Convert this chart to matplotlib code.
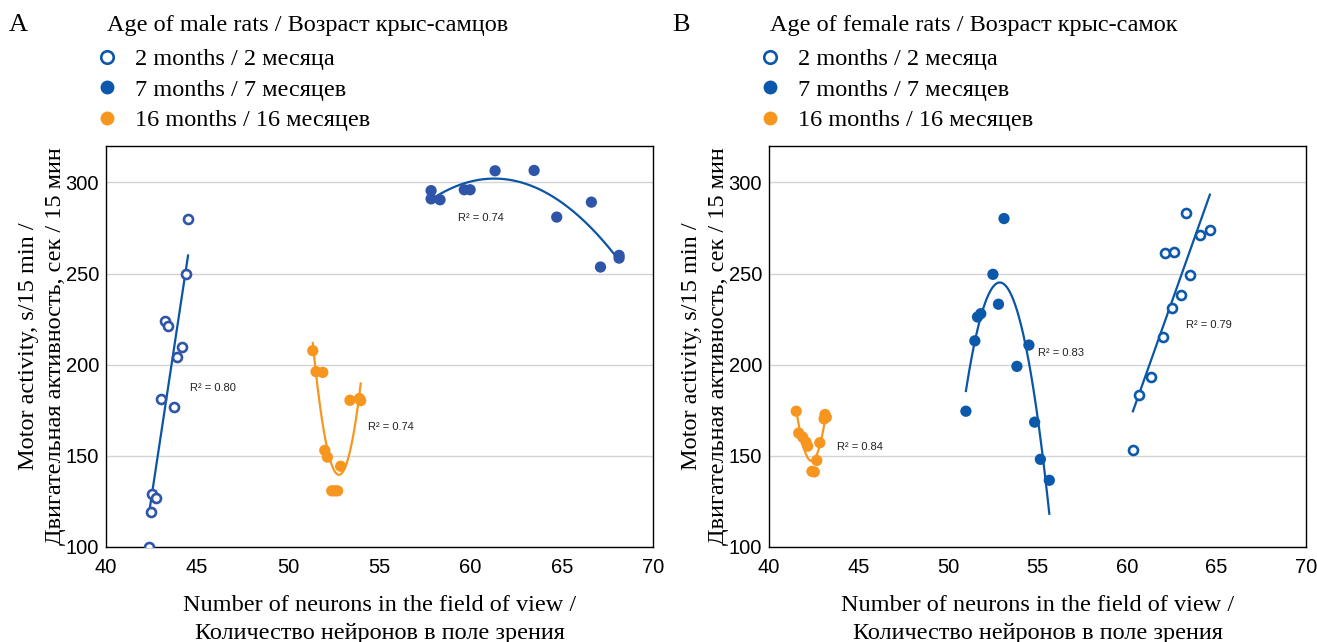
import numpy as np
import matplotlib.pyplot as plt
from matplotlib.lines import Line2D

plt.rcParams['font.family'] = ['Liberation Serif', 'DejaVu Serif']

# ---- données ----
# A : rats mâles
male_2m_x = [44.5, 44.37, 43.24, 43.38, 44.19, 43.9, 43.03, 43.73, 42.5, 42.74, 42.47, 42.38]
male_2m_y = [280, 250, 224, 221, 210, 204, 181, 177, 129, 127, 119, 100]
male_7m_x = [57.83, 57.83, 58.32, 59.65, 59.97, 61.34, 63.48, 64.72, 66.62, 67.12, 68.14, 68.14]
male_7m_y = [295.5, 291, 290.5, 296, 296, 306.4, 306.6, 281, 289.2, 253.6, 260, 258.5]
male_16m_x = [51.34, 51.52, 51.89, 53.38, 53.97, 53.9, 52.0, 52.14, 52.87, 52.38, 52.55, 52.7]
male_16m_y = [207.7, 196.2, 195.8, 180.5, 180.3, 181.5, 153, 149.3, 144.3, 130.8, 130.8, 130.8]

# B : rats femelles
female_2m_x = [63.31, 64.1, 64.63, 62.14, 62.64, 63.5, 62.99, 62.49, 62.0, 61.32, 60.66, 60.33]
female_2m_y = [283.2, 271.4, 274.1, 261.2, 262.1, 249.2, 238.4, 231, 215.3, 193.4, 183.4, 153.4]
female_7m_x = [53.13, 52.51, 52.82, 51.65, 51.83, 51.5, 54.52, 53.85, 51.0, 54.84, 55.16, 55.66]
female_7m_y = [280.2, 249.6, 233.2, 226.2, 228, 213.1, 210.8, 199.1, 174.5, 168.5, 148.1, 136.6]
female_16m_x = [41.52, 41.66, 41.88, 42.07, 42.16, 43.13, 43.2, 43.08, 42.84, 42.67, 42.4, 42.53]
female_16m_y = [174.5, 162.5, 160.3, 157.5, 155.3, 172.7, 171.2, 170.3, 157.2, 147.5, 141.5, 141.2]

# R² affichés et leur position (x, y en unités de données)
r2_male = ["R² = 0.80", "R² = 0.74", "R² = 0.74"]
r2_male_pos = [(44.6, 187.4), (59.3, 280.3), (54.37, 165.6)]
r2_female = ["R² = 0.79", "R² = 0.83", "R² = 0.84"]
r2_female_pos = [(63.3, 221.9), (55.0, 206.6), (43.8, 154.6)]

age_labels = ["2 months / 2 месяца", "7 months / 7 месяцев", "16 months / 16 месяцев"]
titles = ["Age of male rats / Возраст крыс-самцов", "Age of female rats / Возраст крыс-самок"]
xticks = [40, 45, 50, 55, 60, 65, 70]
yticks = [100, 150, 200, 250, 300]

orange = '#f7961f'
line_blue = '#0a55a5'
leg_blue = '#0b57ab'
fs = 17.5

W, H = 1317, 642
fig = plt.figure(figsize=(W / 100, H / 100), dpi=100)
axA = fig.add_axes([106 / W, 1 - 547 / H, 547 / W, 401 / H])
axB = fig.add_axes([769 / W, 1 - 547 / H, 537 / W, 401 / H])


def trend(ax, x, y, deg, color):
    # courbe de tendance type Excel (polynôme sur l'étendue des x)
    coef = np.polyfit(x, y, deg)
    xs = np.linspace(min(x), max(x), 200)
    ax.plot(xs, np.polyval(coef, xs), color=color, linewidth=1.6, zorder=2)


def panel(ax, series, blue_pts, r2_txt, r2_pos):
    (x2, y2), (x7, y7), (x16, y16) = series
    ax.scatter(x2, y2, s=42, facecolors='white', edgecolors=blue_pts, linewidths=1.9, zorder=3)
    ax.scatter(x7, y7, s=66, color=blue_pts, edgecolors='none', zorder=3)
    ax.scatter(x16, y16, s=66, color=orange, edgecolors='none', zorder=3)
    trend(ax, x2, y2, 1, line_blue)
    trend(ax, x7, y7, 2, line_blue)
    trend(ax, x16, y16, 2, orange)
    for t, (tx, ty) in zip(r2_txt, r2_pos):
        ax.text(tx, ty, t, fontsize=8, family=['Liberation Sans', 'DejaVu Sans'],
                ha='left', va='center', color='#222222')

    ax.set_xlim(40, 70)
    ax.set_ylim(100, 320)
    ax.set_xticks(xticks)
    ax.set_yticks(yticks)
    ax.tick_params(axis='x', length=0, pad=8)
    ax.tick_params(axis='y', length=0, pad=5)
    for lab in ax.get_xticklabels() + ax.get_yticklabels():
        lab.set_family(['Liberation Sans', 'DejaVu Sans'])
        lab.set_fontsize(14.5)
    ax.grid(axis='y', color='#d4d4d4', linewidth=1)
    ax.set_axisbelow(True)
    for sp in ax.spines.values():
        sp.set_color('black')
        sp.set_linewidth(1)

    ax.set_xlabel("Number of neurons in the field of view /\nКоличество нейронов в поле зрения",
                  fontsize=fs, labelpad=13, linespacing=1.4)
    ax.set_ylabel("Motor activity, s/15 min /\nДвигательная активность, сек / 15 мин",
                  fontsize=fs, labelpad=0, linespacing=1.35)


panel(axA, [(male_2m_x, male_2m_y), (male_7m_x, male_7m_y), (male_16m_x, male_16m_y)],
      '#2f55a8', r2_male, r2_male_pos)
panel(axB, [(female_2m_x, female_2m_y), (female_7m_x, female_7m_y), (female_16m_x, female_16m_y)],
      '#0c59ac', r2_female, r2_female_pos)

# légendes en haut : lettre, titre, puis les trois âges
for ax, letter, lx, title in [(axA, "A", 18, titles[0]), (axB, "B", 681, titles[1])]:
    x0 = ax.get_position().x0
    fig.text(lx / W, 1 - 25 / H, letter, fontsize=19, ha='center', va='center')
    fig.text(x0 + 1 / W, 1 - 26 / H, title, fontsize=fs, ha='left', va='center')
    handles = [
        Line2D([], [], ls='none', marker='o', ms=9, mfc='white', mec=leg_blue, mew=1.9),
        Line2D([], [], ls='none', marker='o', ms=10, mfc=leg_blue, mec='none'),
        Line2D([], [], ls='none', marker='o', ms=10, mfc=orange, mec='none'),
    ]
    ax.legend(handles, age_labels, loc='upper left',
              bbox_to_anchor=(x0 - 11 / W, 1 - 48 / H), bbox_transform=fig.transFigure,
              frameon=False, fontsize=fs, handlelength=1.0, handletextpad=0.65,
              labelspacing=0.35, borderpad=0, borderaxespad=0)

fig.savefig("out.png", dpi=100)
